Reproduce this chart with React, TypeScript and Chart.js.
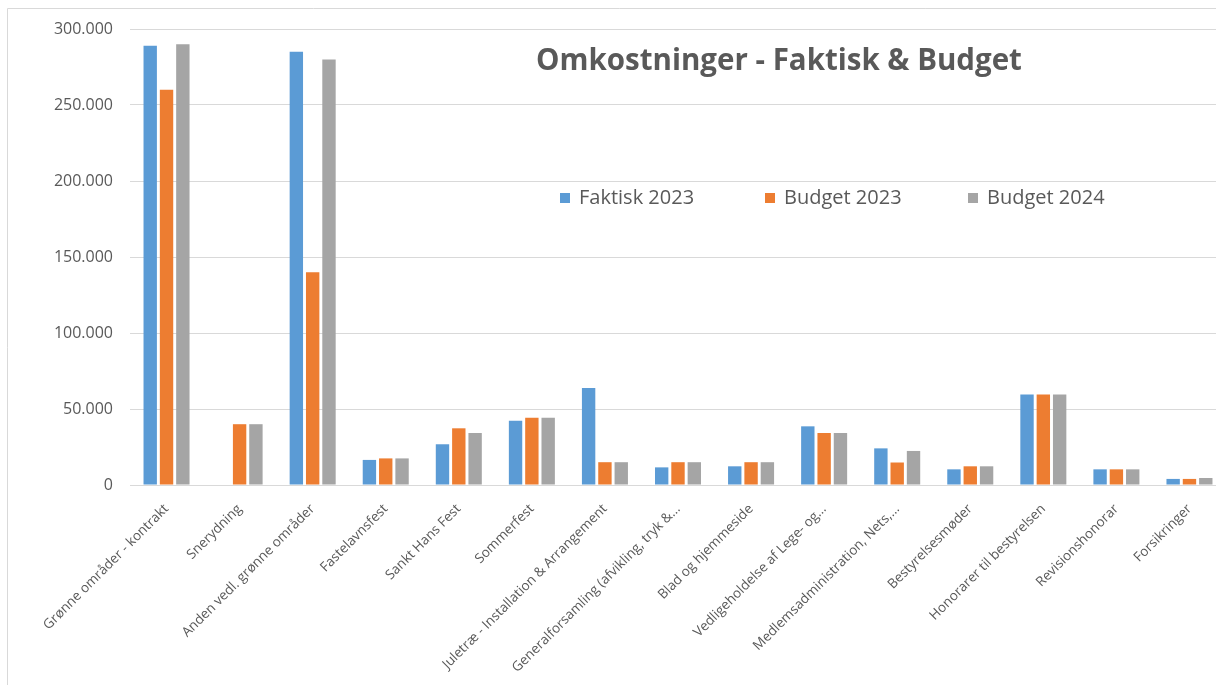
import React, { useEffect, useRef } from "react";
import { Chart, registerables } from "chart.js";

Chart.register(...registerables);

const categories = [
  "Grønne områder - kontrakt",
  "Snerydning",
  "Anden vedl. grønne områder",
  "Fastelavnsfest",
  "Sankt Hans Fest",
  "Sommerfest",
  "Juletræ - Installation & Arrangement",
  "Generalforsamling (afvikling, tryk &...",
  "Blad og hjemmeside",
  "Vedligeholdelse af Lege- og...",
  "Medlemsadministration, Nets,...",
  "Bestyrelsesmøder",
  "Honorarer til bestyrelsen",
  "Revisionshonorar",
  "Forsikringer",
];

const faktisk2023 = [289000, 0, 285000, 16500, 26800, 42300, 63800, 11600, 12300, 38600, 24100, 10300, 59500, 10300, 4000];
const budget2023 = [260000, 40000, 140000, 17500, 37300, 44300, 15000, 15000, 15000, 34200, 14800, 12300, 59500, 10300, 4000];
const budget2024 = [290000, 40000, 280000, 17500, 34200, 44300, 15000, 15000, 15000, 34200, 22400, 12300, 59500, 10300, 4600];

const seriesNames = ["Faktisk 2023", "Budget 2023", "Budget 2024"];
const seriesColors = ["#5B9BD5", "#ED7D31", "#A5A5A5"];
const chartTitle = "Omkostninger - Faktisk & Budget";

const FONT = "'Open Sans', sans-serif";

function fmt(v: number): string {
  const s = Math.round(v).toString();
  return s.replace(/\B(?=(\d{3})+(?!\d))/g, ".");
}

const overlayPlugin = {
  id: "overlay",
  afterDraw(chart: any) {
    const ctx = chart.ctx;
    ctx.save();
    // outer border
    ctx.strokeStyle = "#d9d9d9";
    ctx.lineWidth = 1;
    ctx.beginPath();
    ctx.moveTo(7.5, 700);
    ctx.lineTo(7.5, 8.5);
    ctx.lineTo(1300, 8.5);
    ctx.stroke();

    // title
    ctx.fillStyle = "#595959";
    ctx.font = `bold 29.5px ${FONT}`;
    ctx.textAlign = "center";
    ctx.textBaseline = "middle";
    ctx.fillText(chartTitle, 779, 62);

    // legend
    ctx.font = `20px ${FONT}`;
    ctx.textAlign = "left";
    const starts = [560, 765, 968];
    seriesNames.forEach((name, i) => {
      ctx.fillStyle = seriesColors[i];
      ctx.fillRect(starts[i], 193, 10, 10);
      ctx.fillStyle = "#595959";
      ctx.fillText(name, starts[i] + 19, 198);
    });
    ctx.restore();
  },
};

export default function App() {
  const ref = useRef<HTMLCanvasElement | null>(null);
  useEffect(() => {
    if (!ref.current) return;
    const chart = new Chart(ref.current, {
      type: "bar",
      data: {
        labels: categories,
        datasets: [faktisk2023, budget2023, budget2024].map((d, i) => ({
          label: seriesNames[i],
          data: d,
          backgroundColor: seriesColors[i],
          categoryPercentage: 0.67,
          barPercentage: 0.82,
        })),
      },
      options: {
        responsive: false,
        animation: false,
        layout: { padding: { top: 29, right: 4, left: 0, bottom: 0 } },
        plugins: {
          legend: { display: false },
          title: { display: false },
          tooltip: { enabled: false },
        },
        scales: {
          x: {
            grid: { display: false },
            border: { display: false },
            ticks: {
              autoSkip: false,
              maxRotation: 45,
              minRotation: 45,
              color: "#595959",
              font: { family: FONT, size: 13.5 },
              padding: 8,
            },
            afterFit: (s: any) => {
              s.height = 200;
            },
          },
          y: {
            min: 0,
            max: 300000,
            ticks: {
              stepSize: 50000,
              color: "#595959",
              font: { family: FONT, size: 16 },
              padding: 17,
              callback: (v: any) => fmt(Number(v)),
            },
            grid: { color: "#d9d9d9", drawTicks: false, lineWidth: 1 },
            border: { display: false },
            afterFit: (s: any) => {
              s.width = 130;
            },
          },
        },
      },
      plugins: [overlayPlugin],
    });
    return () => chart.destroy();
  }, []);

  return (
    <div style={{ position: "fixed", left: 0, top: 0, width: 1216, height: 685, overflow: "hidden", background: "#fff" }}>
      <canvas ref={ref} width={1230} height={685} style={{ display: "block" }} />
    </div>
  );
}
